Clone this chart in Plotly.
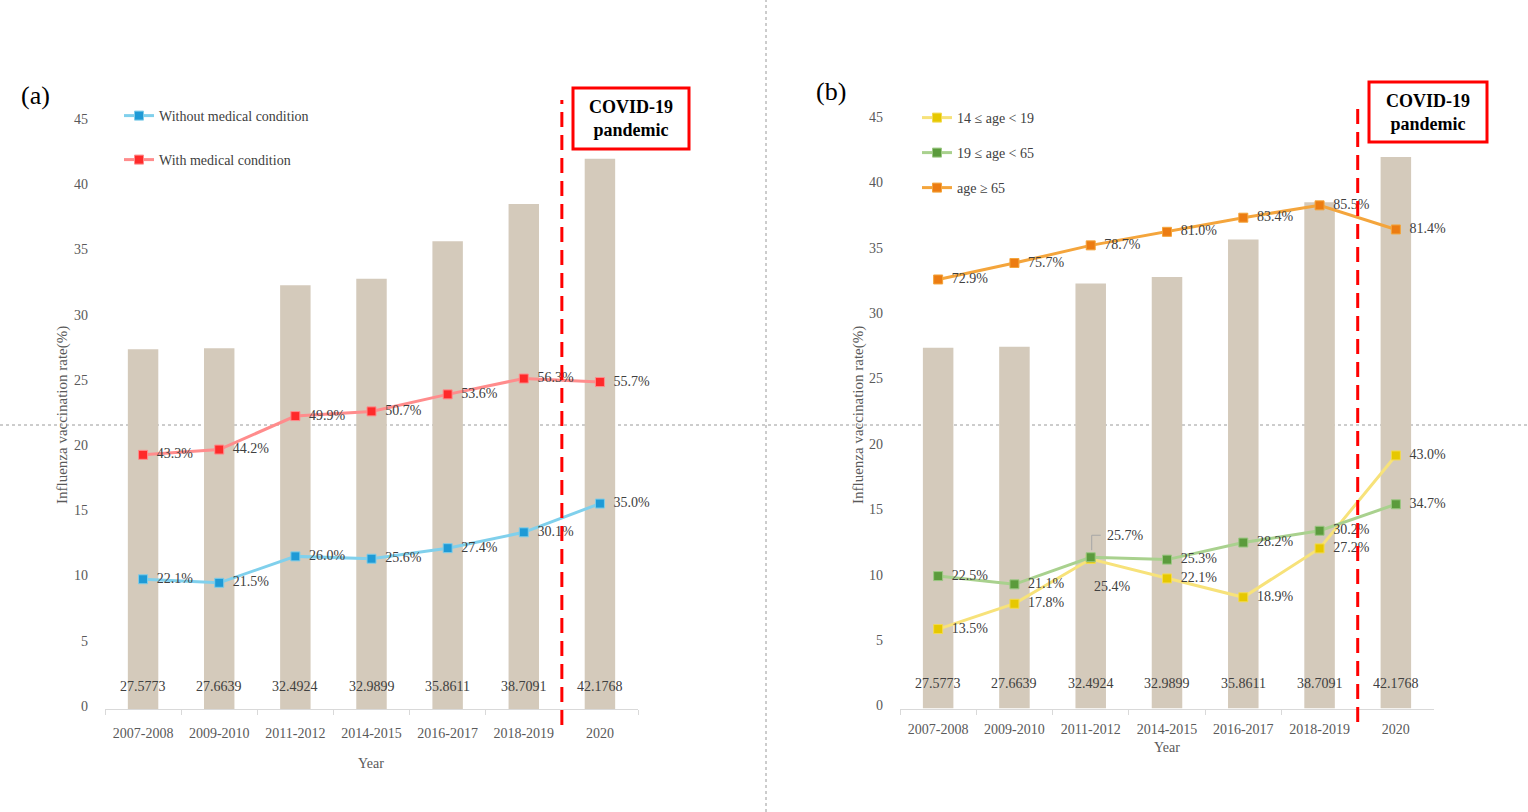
import plotly.graph_objects as go

W, H = 1528, 812

# ---------------- data ----------------
years = ["2007-2008", "2009-2010", "2011-2012", "2014-2015", "2016-2017", "2018-2019", "2020"]
overall_rate = [27.5773, 27.6639, 32.4924, 32.9899, 35.8611, 38.7091, 42.1768]
without_condition = [22.1, 21.5, 26.0, 25.6, 27.4, 30.1, 35.0]
with_condition = [43.3, 44.2, 49.9, 50.7, 53.6, 56.3, 55.7]
age_14_19 = [13.5, 17.8, 25.4, 22.1, 18.9, 27.2, 43.0]
age_19_65 = [22.5, 21.1, 25.7, 25.3, 28.2, 30.2, 34.7]
age_65_plus = [72.9, 75.7, 78.7, 81.0, 83.4, 85.5, 81.4]
y_ticks = [0, 5, 10, 15, 20, 25, 30, 35, 40, 45]


def px(x):
    return x / W


def py(y):
    return 1 - y / H


FONT = "Liberation Serif, Times New Roman, serif"
TXT = "#404040"
TICK = "#595959"
BAR = "#d4cabb"
SEC_RANGE = [0, 100]

fig = go.Figure()

# ---------------- panel (a) ----------------
fig.add_trace(go.Bar(x=years, y=overall_rate, xaxis="x", yaxis="y", width=0.4,
                     marker=dict(color=BAR, line=dict(width=0)), showlegend=False,
                     hoverinfo="y"))


def line_trace(vals, name, lc, mc, mlc, xa, ya, leg, skip=None):
    texts = [f"{v:.1f}%" for v in vals]
    if skip is not None:
        texts[skip] = ""
    return go.Scatter(
        x=years, y=vals, xaxis=xa, yaxis=ya, name=name, legend=leg,
        mode="lines+markers+text",
        line=dict(color=lc, width=3),
        marker=dict(symbol="square", size=9, color=mc, line=dict(color=mlc, width=1)),
        text=texts,
        texttemplate="\u2002%{text}",
        textposition="middle right",
        textfont=dict(family=FONT, size=14, color=TXT),
        cliponaxis=False,
    )


fig.add_trace(line_trace(without_condition, "Without medical condition", "#80d0ec", "#1e9ad6", "#7fcde9",
                         "x", "y2", "legend"))
fig.add_trace(line_trace(with_condition, "With medical condition", "#ff8c8c", "#ff2a2a", "#ff8c8c",
                         "x", "y2", "legend2"))

# ---------------- panel (b) ----------------
fig.add_trace(go.Bar(x=years, y=overall_rate, xaxis="x2", yaxis="y3", width=0.4,
                     marker=dict(color=BAR, line=dict(width=0)), showlegend=False,
                     hoverinfo="y"))
fig.add_trace(line_trace(age_14_19, "14 \u2264 age < 19", "#f7e27a", "#e6c800", "#f3da50",
                         "x2", "y4", "legend3", skip=2))
fig.add_trace(line_trace(age_19_65, "19 \u2264 age < 65", "#a9d18e", "#5b9b3c", "#9cc883",
                         "x2", "y4", "legend4", skip=2))
fig.add_trace(line_trace(age_65_plus, "age \u2265 65", "#f4a53c", "#ec7c12", "#f4a53c",
                         "x2", "y4", "legend5"))

# ---------------- axes ----------------
xa_common = dict(type="category", range=[-0.5, len(years) - 0.5], autorange=False,
                 showgrid=False, zeroline=False, showline=True,
                 linecolor="#d9d9d9", linewidth=1, ticks="outside", tickson="boundaries",
                 ticklen=5, tickcolor="#d9d9d9", tickfont=dict(family=FONT, size=14, color=TICK),
                 tickangle=0, automargin=False, fixedrange=True)
ya_common = dict(range=[0, 45], tickvals=y_ticks, showgrid=False, zeroline=False, showline=False,
                 ticks="", tickfont=dict(family=FONT, size=14, color=TICK), automargin=False,
                 ticklabelstandoff=16, ticklabelshift=-3, fixedrange=True)
sec_common = dict(range=SEC_RANGE, visible=False, showgrid=False, zeroline=False, fixedrange=True)

A_X = [px(105), px(638)]
A_Y = [py(709), py(122)]
B_X = [px(900), px(1434)]
B_Y = [py(708.5), py(120)]

legend_common = dict(bgcolor="rgba(0,0,0,0)", borderwidth=0, xanchor="left", yanchor="middle",
                     font=dict(family=FONT, size=14, color=TXT), itemwidth=30)

fig.update_layout(
    width=W, height=H, margin=dict(l=0, r=0, t=0, b=0),
    paper_bgcolor="white", plot_bgcolor="rgba(0,0,0,0)",
    bargap=0.6,
    xaxis=dict(domain=A_X, anchor="y", ticklabelstandoff=11, **xa_common),
    yaxis=dict(domain=A_Y, anchor="x", **ya_common),
    yaxis2=dict(domain=A_Y, overlaying="y", anchor="x", **sec_common),
    xaxis2=dict(domain=B_X, anchor="y3", ticklabelstandoff=8, **xa_common),
    yaxis3=dict(domain=B_Y, anchor="x2", **ya_common),
    yaxis4=dict(domain=B_Y, overlaying="y3", anchor="x2", **sec_common),
    legend=dict(x=px(119), y=py(116), **legend_common),
    legend2=dict(x=px(119), y=py(160), **legend_common),
    legend3=dict(x=px(917), y=py(118), **legend_common),
    legend4=dict(x=px(917), y=py(153), **legend_common),
    legend5=dict(x=px(917), y=py(188), **legend_common),
)

annotations = []
shapes = []


def ann(**kw):
    base = dict(showarrow=False, xanchor="center", yanchor="middle")
    base.update(kw)
    annotations.append(base)


# bar value labels (category index positions)
for xa, ya, shift in (("x", "y", 23), ("x2", "y3", 25)):
    for i, v in enumerate(overall_rate):
        ann(x=i, y=0, xref=xa, yref=ya, yshift=shift, text=f"{v:.4f}",
            font=dict(family=FONT, size=14, color=TXT))

# moved data labels for 2011-2012 in panel (b)
ann(x=2, y=age_14_19[2], xref="x2", yref="y4", xanchor="left", xshift=1, yshift=-27,
    text=f"{age_14_19[2]:.1f}%", font=dict(family=FONT, size=14, color=TXT))
ann(x=2, y=age_19_65[2], xref="x2", yref="y4", xanchor="left", xshift=14, yshift=22,
    text=f"{age_19_65[2]:.1f}%", font=dict(family=FONT, size=14, color=TXT))
shapes.append(dict(type="path", xref="x2", yref="y4", xsizemode="pixel", ysizemode="pixel",
                   xanchor=2, yanchor=age_19_65[2], path="M 1,7 L 1,22 L 10,22",
                   line=dict(color="#a6a6a6", width=1)))

# panel labels
ann(x=px(35), y=py(95), xref="paper", yref="paper", text="(a)",
    font=dict(family=FONT, size=26, color="black"))
ann(x=px(831), y=py(92), xref="paper", yref="paper", text="(b)",
    font=dict(family=FONT, size=26, color="black"))

# axis titles
for xc, yc in ((62, 415), (858, 415)):
    ann(x=px(xc), y=py(yc), xref="paper", yref="paper", textangle=-90,
        text="Influenza vaccination rate(%)", font=dict(family=FONT, size=15, color=TICK))
ann(x=px(371), y=py(763), xref="paper", yref="paper", text="Year",
    font=dict(family=FONT, size=14, color=TICK))
ann(x=px(1167), y=py(747), xref="paper", yref="paper", text="Year",
    font=dict(family=FONT, size=14, color=TICK))

# COVID boxes + red dashed line
for xa, box, ytop, ybot in (("x", (573, 88, 689, 149), 100, 725), ("x2", (1369, 82, 1487, 142), 102, 722)):
    shapes.append(dict(type="line", xref=xa, yref="paper", x0=5.5, x1=5.5, y0=py(ybot), y1=py(ytop),
                       line=dict(color="#ff0000", width=3, dash="15px,8px")))
    x0, y0, x1, y1 = box
    shapes.append(dict(type="rect", xref="paper", yref="paper", x0=px(x0), x1=px(x1), y0=py(y1), y1=py(y0),
                       line=dict(color="#ff0000", width=3), fillcolor="white"))
    ann(x=px((x0 + x1) / 2), y=py((y0 + y1) / 2), xref="paper", yref="paper",
        text="<b>COVID-19</b><br><b>pandemic</b>",
        font=dict(family=FONT, size=18, color="black"))

# quadrant guide lines of the original figure
shapes.append(dict(type="line", xref="paper", yref="paper", x0=px(766), x1=px(766), y0=0, y1=1,
                   line=dict(color="#9a9a9a", width=1, dash="3px,3px"), layer="below"))
shapes.append(dict(type="line", xref="paper", yref="paper", x0=0, x1=1, y0=py(425), y1=py(425),
                   line=dict(color="#9a9a9a", width=1, dash="3px,3px"), layer="below"))

fig.update_layout(annotations=annotations, shapes=shapes)

fig.write_html("out.html", config={"displayModeBar": False},
               post_script="document.body.style.margin='0';document.body.style.overflow='hidden';")
